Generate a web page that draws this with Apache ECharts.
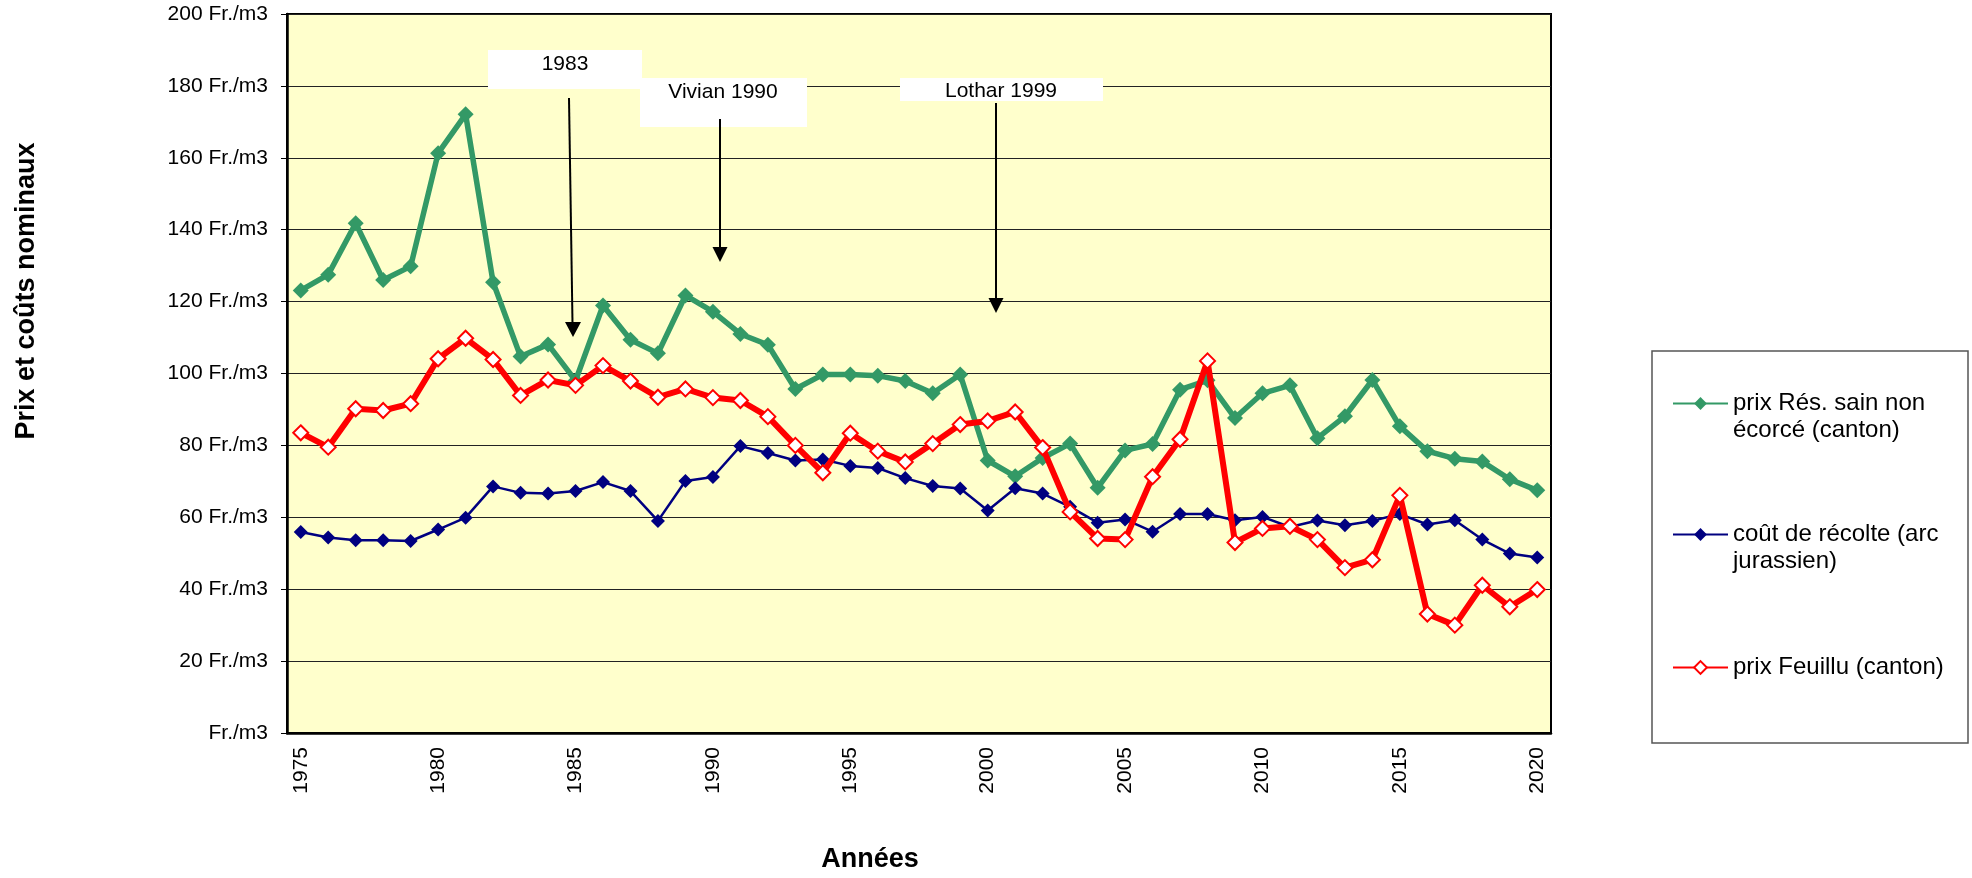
<!DOCTYPE html>
<html>
<head>
<meta charset="utf-8">
<title>Prix et coûts nominaux</title>
<script src="https://cdn.jsdelivr.net/npm/echarts@6/dist/echarts.min.js"></script>
<style>
  html, body { margin: 0; padding: 0; background: #fff; }
  #chart { width: 1972px; height: 878px; }
</style>
</head>
<body>
<div id="chart"></div>
<script>
const years = ['1975', '1976', '1977', '1978', '1979', '1980', '1981', '1982', '1983', '1984',
  '1985', '1986', '1987', '1988', '1989', '1990', '1991', '1992', '1993', '1994',
  '1995', '1996', '1997', '1998', '1999', '2000', '2001', '2002', '2003', '2004',
  '2005', '2006', '2007', '2008', '2009', '2010', '2011', '2012', '2013', '2014',
  '2015', '2016', '2017', '2018', '2019', '2020'];

// prix Rés. sain non écorcé (canton)
const prixResineux = [123.1, 127.5, 141.8, 126.0, 129.8, 161.3, 172.1, 125.4, 104.7, 108.1,
  98.0, 118.9, 109.4, 105.6, 121.7, 117.2, 111.0, 108.0, 95.7, 99.7,
  99.7, 99.4, 97.9, 94.5, 99.7, 75.8, 71.4, 76.5, 80.5, 68.2,
  78.6, 80.4, 95.5, 98.1, 87.6, 94.5, 96.7, 82.0, 88.1, 98.2,
  85.3, 78.4, 76.3, 75.5, 70.6, 67.5];

// coût de récolte (arc jurassien)
const coutRecolte = [55.9, 54.4, 53.6, 53.6, 53.4, 56.6, 59.9, 68.6, 66.8, 66.6,
  67.3, 69.8, 67.3, 59.0, 70.1, 71.2, 79.8, 77.9, 75.8, 76.1,
  74.3, 73.7, 70.9, 68.7, 68.0, 61.9, 68.1, 66.6, 62.9, 58.5,
  59.4, 56.0, 60.9, 60.9, 59.2, 60.1, 57.3, 59.1, 57.8, 59.0,
  60.9, 58.0, 59.2, 53.8, 49.9, 48.8];

// prix Feuillu (canton)
const prixFeuillu = [83.5, 79.5, 90.2, 89.7, 91.6, 104.1, 109.8, 103.9, 93.9, 98.2,
  96.7, 102.2, 97.9, 93.4, 95.7, 93.3, 92.5, 88.0, 80.0, 72.4,
  83.4, 78.4, 75.4, 80.5, 85.8, 86.8, 89.3, 79.4, 61.5, 54.1,
  53.8, 71.3, 81.7, 103.5, 53.0, 56.9, 57.5, 53.8, 46.0, 48.2,
  66.1, 33.1, 30.0, 41.1, 35.1, 39.9];

const yTicks = [0, 20, 40, 60, 80, 100, 120, 140, 160, 180, 200];
const events = ['1983', 'Vivian 1990', 'Lothar 1999'];

const seriesNames = ['prix Rés. sain non écorcé (canton)', 'coût de récolte (arc jurassien)', 'prix Feuillu (canton)'];
// ligne vide en tête : le symbole reste aligné sur la 1re ligne du texte
const legendLabels = ['\u00a0\nprix Rés. sain non\nécorcé (canton)', '\u00a0\ncoût de récolte (arc\njurassien)', 'prix Feuillu (canton)'];

const FONT = "'Liberation Sans', Arial, sans-serif";

// annotation : boîte blanche + flèche
function note(text, box, textPos, line, head) {
  return [
    { type: 'rect', shape: box, style: { fill: '#fff' }, z: 10 },
    { type: 'text', x: textPos[0], y: textPos[1], z: 11,
      style: { text: text, font: '21px ' + FONT, fill: '#000', align: 'center', verticalAlign: 'middle' } },
    { type: 'line', shape: line, style: { stroke: '#000', lineWidth: 2 }, z: 11 },
    { type: 'polygon', shape: { points: head }, style: { fill: '#000' }, z: 11 }
  ];
}

function legendFor(i, top) {
  return {
    data: [seriesNames[i]],
    left: 1672,
    top: top,
    padding: 0,
    itemWidth: 55,
    itemHeight: 16,
    itemGap: 0,
    selectedMode: false,
    formatter: () => legendLabels[i],
    textStyle: { fontFamily: FONT, fontSize: 24, color: '#000', lineHeight: 27 }
  };
}

let option = {
  animation: false,
  backgroundColor: '#fff',
  grid: {
    left: 287, right: 421, top: 14, bottom: 145,
    show: true,
    backgroundColor: '#FFFFCC',
    borderColor: '#000',
    borderWidth: 2
  },
  legend: [legendFor(0, 363), legendFor(1, 494), legendFor(2, 654)],
  xAxis: {
    type: 'category',
    data: years,
    boundaryGap: true,
    axisLine: { lineStyle: { color: '#000', width: 2.5 } },
    axisTick: { interval: 0, length: 5, lineStyle: { color: '#808080', width: 1.5 } },
    axisLabel: {
      interval: 4, rotate: 90, margin: 14,
      fontFamily: FONT, fontSize: 21, color: '#000'
    },
    splitLine: { show: false }
  },
  yAxis: {
    type: 'value',
    min: yTicks[0],
    max: yTicks[yTicks.length - 1],
    interval: yTicks[1] - yTicks[0],
    axisLine: { show: true, lineStyle: { color: '#000', width: 2.5 } },
    axisTick: { show: true, length: 6, lineStyle: { color: '#000', width: 1 } },
    axisLabel: {
      margin: 19,
      fontFamily: FONT, fontSize: 21, color: '#000',
      formatter: v => (v === 0 ? 'Fr./m3' : v + ' Fr./m3')
    },
    splitLine: { lineStyle: { color: '#222', width: 1 } }
  },
  series: [
    {
      name: seriesNames[0],
      type: 'line',
      data: prixResineux,
      symbol: 'diamond',
      symbolSize: 16,
      lineStyle: { color: '#339966', width: 5.5 },
      itemStyle: { color: '#339966' },
      z: 2
    },
    {
      name: seriesNames[1],
      type: 'line',
      data: coutRecolte,
      symbol: 'diamond',
      symbolSize: 14,
      lineStyle: { color: '#000080', width: 2.5 },
      itemStyle: { color: '#000080' },
      z: 3
    },
    {
      name: seriesNames[2],
      type: 'line',
      data: prixFeuillu,
      symbol: 'diamond',
      symbolSize: 15,
      lineStyle: { color: '#FF0000', width: 6 },
      itemStyle: { color: '#fff', borderColor: '#FF0000', borderWidth: 2 },
      z: 4
    }
  ],
  graphic: [
    // cadre de la légende
    { type: 'rect', shape: { x: 1652, y: 351, width: 316, height: 392 },
      style: { fill: 'none', stroke: '#555', lineWidth: 1.5 }, z: 0 },
    // titres des axes
    { type: 'text', x: 27, y: 291, rotation: Math.PI / 2,
      style: { text: 'Prix et coûts nominaux', font: 'bold 27px ' + FONT, fill: '#000', align: 'center', verticalAlign: 'middle' } },
    { type: 'text', x: 870, y: 860,
      style: { text: 'Années', font: 'bold 27px ' + FONT, fill: '#000', align: 'center', verticalAlign: 'middle' } },
    ...note(events[0], { x: 488, y: 50, width: 154, height: 39 }, [565, 64],
      { x1: 569, y1: 98, x2: 572.5, y2: 323 }, [[565, 322], [581, 322], [573, 337]]),
    ...note(events[1], { x: 640, y: 78, width: 167, height: 49 }, [723, 92],
      { x1: 720, y1: 119, x2: 720, y2: 248 }, [[712.5, 247], [727.5, 247], [720, 262]]),
    ...note(events[2], { x: 900, y: 78, width: 203, height: 23 }, [1001, 91],
      { x1: 996, y1: 103, x2: 996, y2: 299 }, [[988.5, 298], [1003.5, 298], [996, 313]])
  ]
};

const chart = echarts.init(document.getElementById('chart'), null, { renderer: 'canvas' });
chart.setOption(option);
</script>
</body>
</html>
